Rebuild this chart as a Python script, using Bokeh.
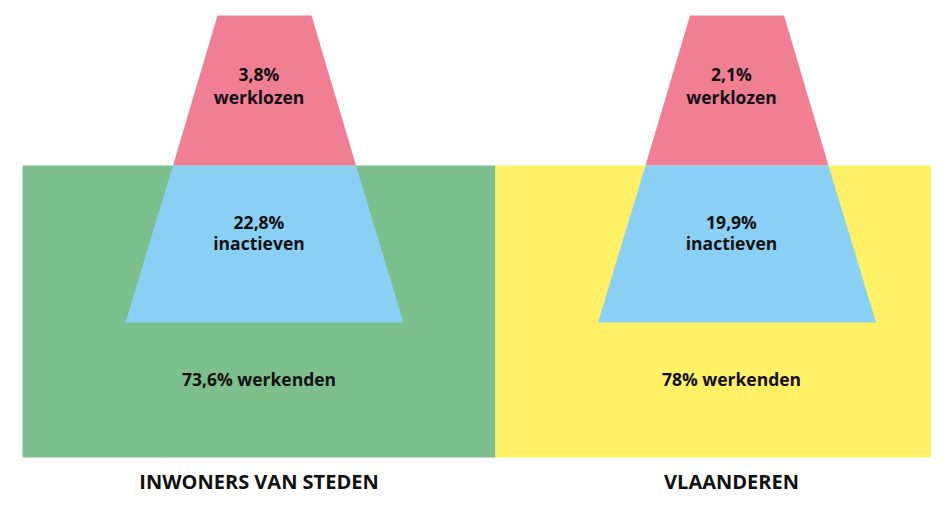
from bokeh.plotting import figure
from bokeh.models import Range1d, ColumnDataSource
from bokeh.core.properties import value
from bokeh.embed import file_html
from bokeh.resources import INLINE

# ---- data ----
groups = ["INWONERS VAN STEDEN", "VLAANDEREN"]
werkenden = [73.6, 78]
inactieven = [22.8, 19.9]
werklozen = [3.8, 2.1]

def fmt(v):
    s = ("%g" % v).replace(".", ",")
    return s + "%"

# ---- layout (pixel space, y downward) ----
W, H = 931, 496
panel_left = [22, 495]
panel_right = [495, 947]
panel_colors = ["#7DC08E", "#FFF066"]
trap_cx = [264, 736.5]
text_cx = [258.5, 731]
y_top, y_mid, y_bot, y_rect_bot = 15, 165, 322, 457
hw_top, hw_mid, hw_bot = 47, 91.5, 139

PINK = "#F07F94"
BLUE = "#89D0F4"

p = figure(width=W, height=H, output_backend="svg", toolbar_location=None,
           x_range=Range1d(0, W), y_range=Range1d(H, 0),
           min_border=0, outline_line_color=None, background_fill_color="white",
           border_fill_color="white")
p.axis.visible = False
p.grid.visible = False

# background panels
p.quad(left=panel_left, right=panel_right, top=[y_mid] * 2, bottom=[y_rect_bot] * 2,
       fill_color=panel_colors, line_color=None)

# trapezoids
pink_xs = [[c - hw_top, c + hw_top, c + hw_mid, c - hw_mid] for c in trap_cx]
pink_ys = [[y_top, y_top, y_mid, y_mid] for _ in trap_cx]
blue_xs = [[c - hw_mid, c + hw_mid, c + hw_bot, c - hw_bot] for c in trap_cx]
blue_ys = [[y_mid, y_mid, y_bot, y_bot] for _ in trap_cx]
p.patches(pink_xs, pink_ys, fill_color=PINK, line_color=None)
p.patches(blue_xs, blue_ys, fill_color=BLUE, line_color=None)

font = value("Open Sans")
lab_x, lab_y, lab_t = [], [], []
for i in range(len(groups)):
    lab_x += [text_cx[i]] * 5
    lab_y += [73.5, 96.5, 221, 242.5, 378.5]
    lab_t += [fmt(werklozen[i]), "werklozen", fmt(inactieven[i]), "inactieven",
              fmt(werkenden[i]) + " werkenden"]
src = ColumnDataSource(dict(x=lab_x, y=lab_y, t=lab_t))
p.text(x="x", y="y", text="t", source=src, text_font=font, text_font_size="17.5px",
       text_font_style="bold", text_align="center", text_baseline="middle",
       text_color="#111111")

tsrc = ColumnDataSource(dict(x=text_cx, y=[481, 481], t=groups))
p.text(x="x", y="y", text="t", source=tsrc, text_font=font, text_font_size="20px",
       text_font_style="bold", text_align="center", text_baseline="middle",
       text_color="#111111")

open("out.html", "w").write(file_html(p, INLINE))
